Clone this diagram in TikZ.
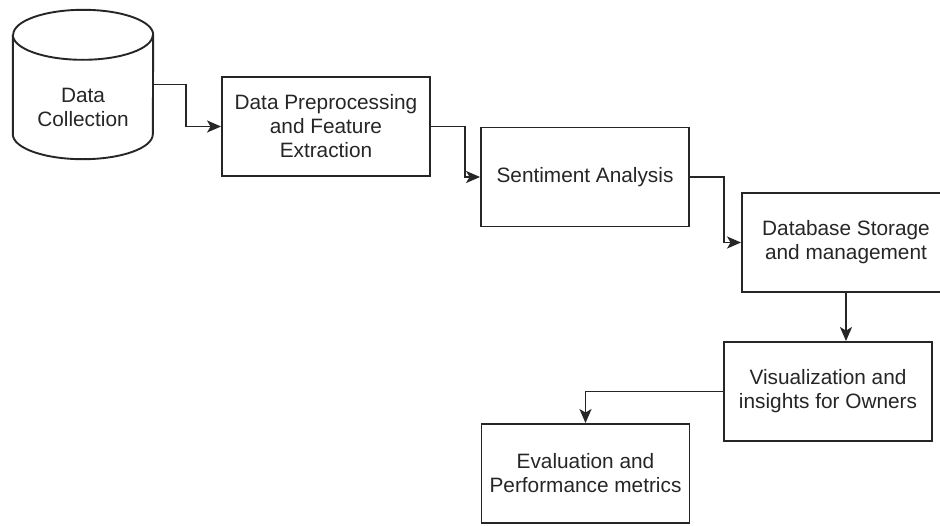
\documentclass[tikz,border=0pt]{standalone}
\usepackage{fontspec}
\setmainfont{Liberation Sans}
\usetikzlibrary{arrows.meta,positioning,calc}
\begin{document}
\begin{tikzpicture}[x=1pt,y=1pt,
  box/.style={draw=black!85, line width=1.9pt, minimum width=208pt, minimum height=99pt, align=center, inner sep=0pt,
    font=\fontsize{20.8pt}{24pt}\selectfont, text=black!85},
  conn/.style={draw=black!85, line width=1.9pt, -{Stealth[length=14pt,width=12pt,inset=3.5pt]}},
  lbl/.style={align=center, font=\fontsize{20.8pt}{24pt}\selectfont, text=black!85}]
\clip (0,0) rectangle (940,-525);
\fill[white] (0,0) rectangle (940,-525);
% cylinder
\node[minimum width=140pt, minimum height=149pt, inner sep=0pt] (cyl) at (83,-84.5) {};
\draw[draw=black!85, line width=1.9pt, fill=white]
  ($(cyl.north west)+(0,-25)$) -- ($(cyl.south west)+(0,25)$)
  arc[start angle=180, end angle=360, x radius=70pt, y radius=25pt]
  -- ($(cyl.north east)+(0,-25)$)
  arc[start angle=0, end angle=180, x radius=70pt, y radius=25pt];
\draw[draw=black!85, line width=1.9pt]
  ($(cyl.north west)+(0,-25)$) arc[start angle=180, end angle=360, x radius=70pt, y radius=25pt];
\node[lbl] (cyltxt) at (83,-107) {Data\\Collection};
% boxes
\node[box] (pre) at (326,-126.5) {Data Preprocessing\\and Feature\\Extraction};
\node[box] (sent) at (585,-177) {Sentiment Analysis};
\node[box] (db) at (846,-242.5) {Database Storage\\and management};
\node[box] (vis) at (828,-391.5) {Visualization and\\insights for Owners};
\node[box] (eval) at (585.5,-473.5) {Evaluation and\\Performance metrics};
% connectors
\draw[conn] (cyl.east) -- ++(33,0) |- (pre.west);
\draw[conn] (pre.east) -- ++(34,0) |- (sent.west);
\draw[conn] (sent.east) -- ++(34,0) |- (db.west);
\draw[conn] (db.south) -- (db.south |- vis.north);
\draw[conn] (vis.west) -| (eval.north);
\end{tikzpicture}
\end{document}
